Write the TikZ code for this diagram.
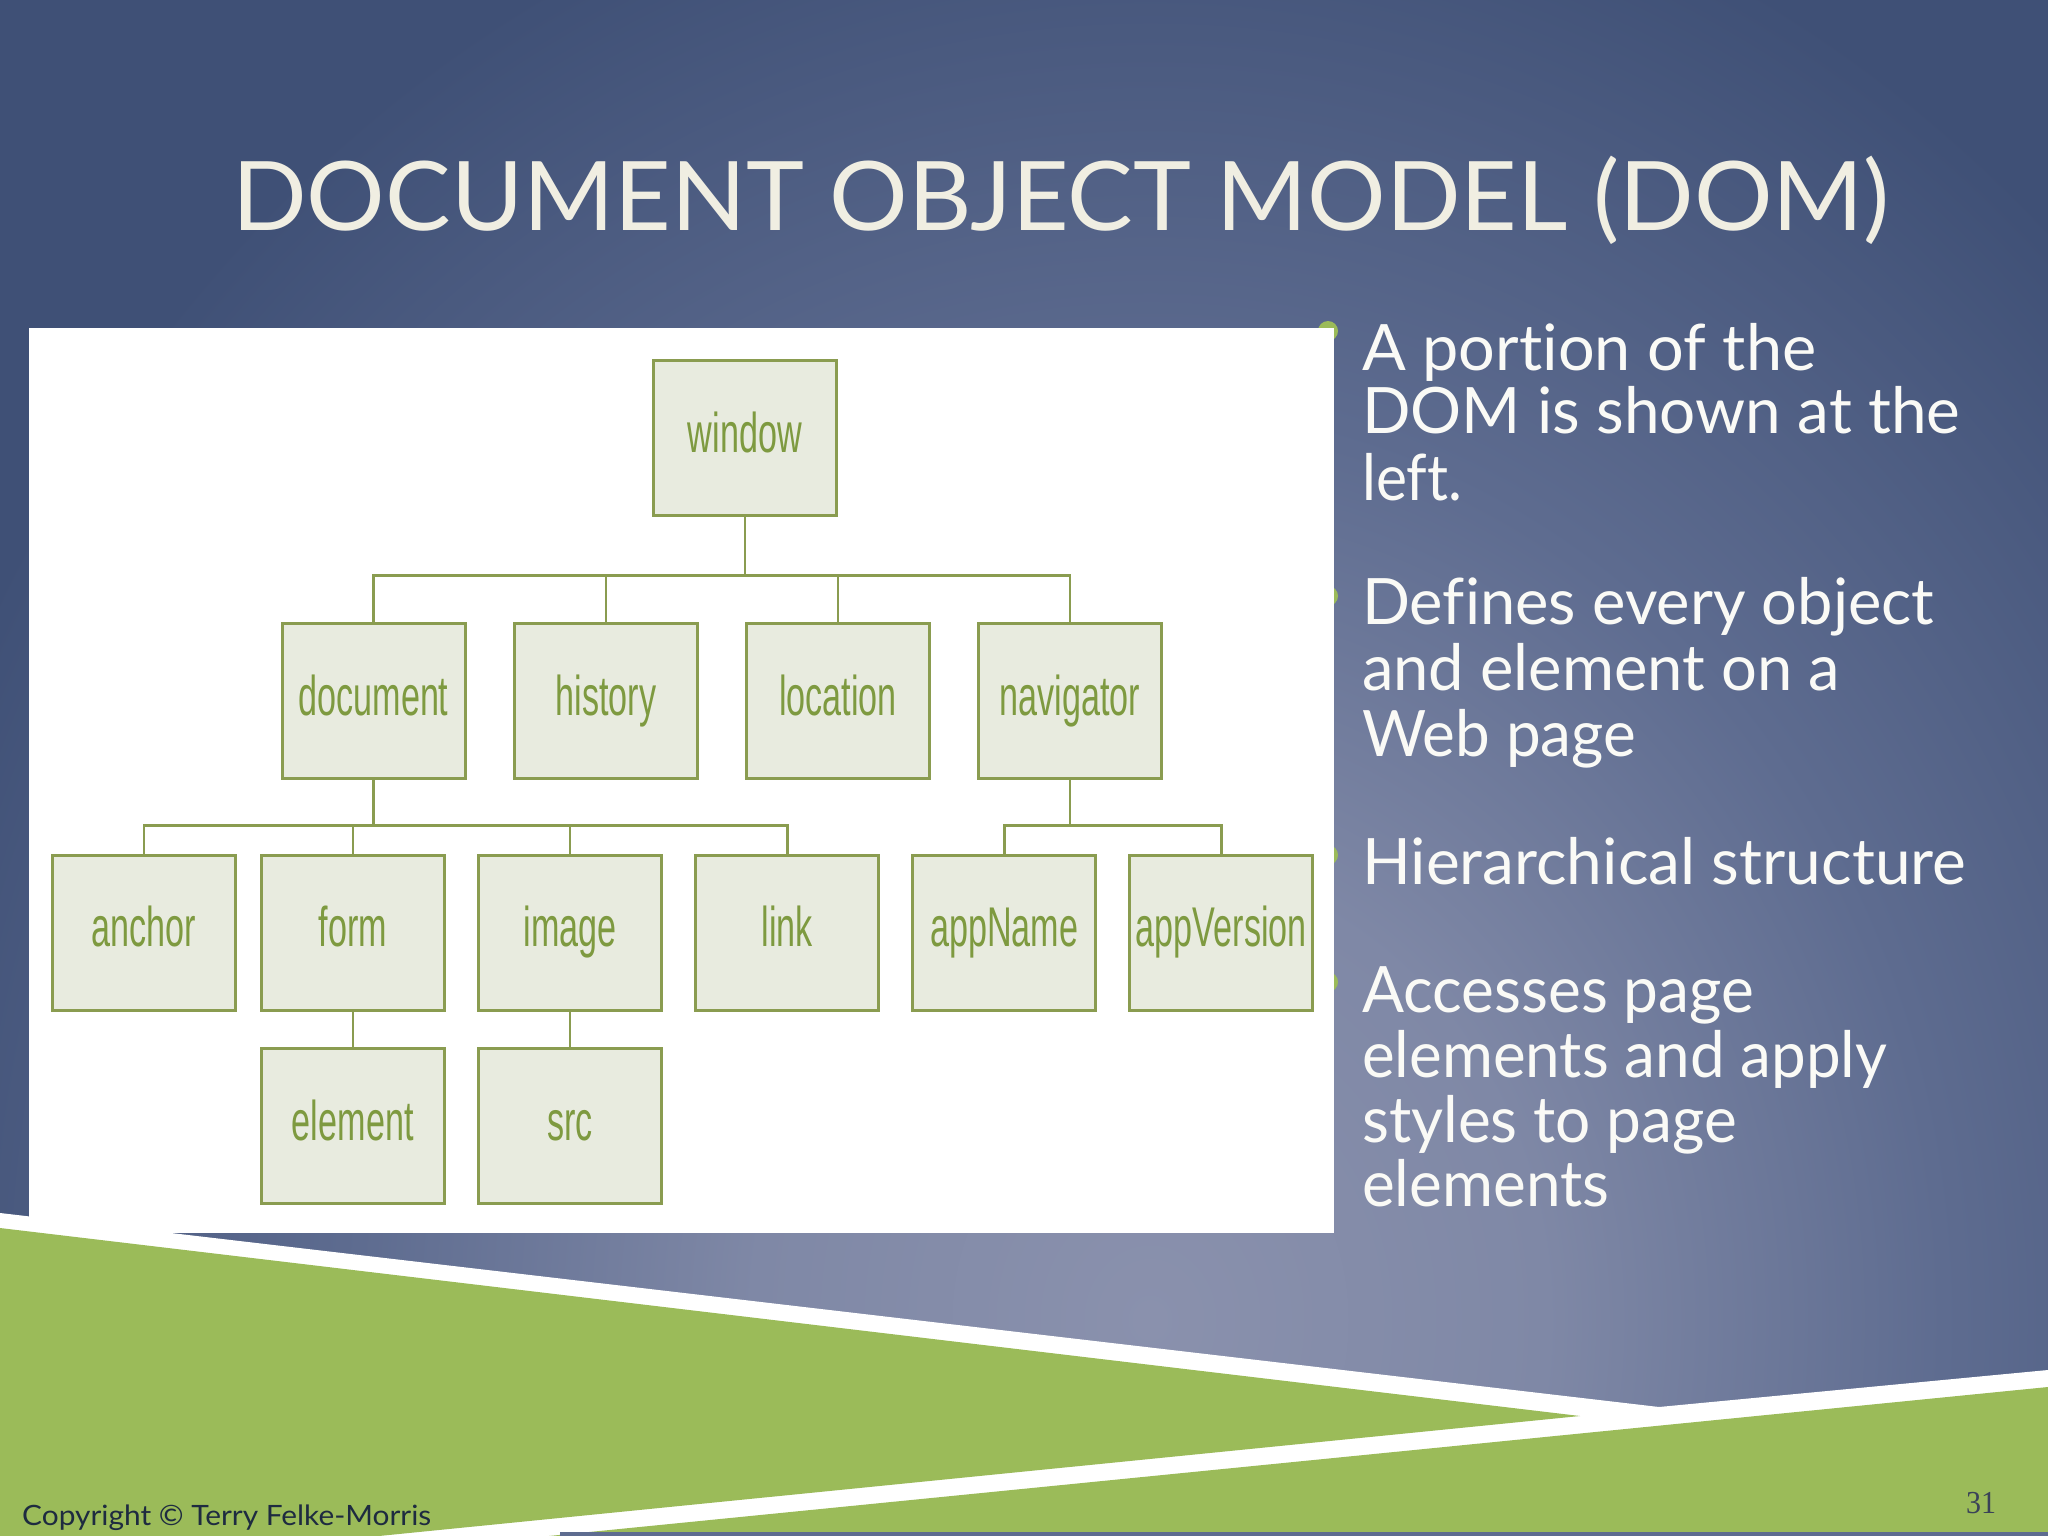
\documentclass[tikz,border=0pt]{standalone}
\usepackage{fontspec}
\usepackage{graphicx}
\setmainfont{Lato}[Ligatures=NoCommon]
\newfontfamily\narrowfont{Liberation Sans}
\newfontfamily\serifnum{Liberation Serif}
\definecolor{bgout}{HTML}{3F5076}
\definecolor{bgmid}{HTML}{5E6C90}
\definecolor{bglight}{HTML}{7F88A6}
\definecolor{bgin}{HTML}{8A91AD}
\definecolor{sgreen}{HTML}{9BBB59}
\definecolor{boxfill}{HTML}{E8EBDF}
\definecolor{boxline}{HTML}{8A9C50}
\definecolor{boxtext}{HTML}{7E9A40}
\definecolor{titlecol}{HTML}{F0EEE2}
\definecolor{copycol}{HTML}{1E2B40}
\definecolor{numcol}{HTML}{3A4258}
\definecolor{bodycol}{HTML}{FAFAF6}
\pgfdeclareradialshading{bgshade}{\pgfpoint{0bp}{0bp}}{color(0bp)=(bgin); color(7.5bp)=(bglight); color(15bp)=(bgmid); color(25bp)=(bgout); color(50bp)=(bgout)}
\newcommand\domlabel[1]{\scalebox{0.61}[1]{#1}}
\tikzset{
  domnode/.style={draw=boxline, fill=boxfill, line width=3pt, minimum width=183pt, minimum height=155pt,
    inner sep=0pt, text=boxtext, font=\narrowfont\fontsize{56}{60}\selectfont, text height=40pt, text depth=12pt},
  conn/.style={draw=boxline, line width=2.5pt},
  bodyline/.style={anchor=base west, inner sep=0pt, text=bodycol, font=\fontsize{64}{64}\selectfont},
  dot/.style={fill=sgreen}
}
\begin{document}
\begin{tikzpicture}[x=1pt,y=-1pt]
\useasboundingbox (0,0) rectangle (2048,1536);
\begin{scope}
  \clip (0,0) rectangle (2048,1536);
  \fill[bgout] (0,0) rectangle (2048,1536);
  \shade[shading=bgshade] (1150,1320) ellipse [x radius=1320pt, y radius=1500pt];
\end{scope}
% bullet dots (mostly hidden behind the panel)
\fill[dot] (1328,331) circle (10);
\fill[dot] (1328,596) circle (10);
\fill[dot] (1328,855) circle (10);
\fill[dot] (1328,982) circle (10);
% white panel
\fill[white] (29,328) rectangle (1334,1233);
% bottom decoration
\fill[white] (0,1213) -- (1659,1407) -- (2048,1370) -- (2048,1536) -- (0,1536) -- cycle;
\fill[sgreen] (0,1228) -- (1580,1416) -- (379,1536) -- (0,1536) -- cycle;
\fill[sgreen] (549,1536) -- (2048,1387) -- (2048,1536) -- cycle;
\fill[bgmid] (560,1532) rectangle (2048,1536);
% title
\node[anchor=base west, inner sep=0pt, text=titlecol] (title) at (232,230)
  {\resizebox{1657pt}{\height}{\fontsize{96}{100}\selectfont DOCUMENT OBJECT MODEL (DOM)}};
% tree
\node[domnode] (window) at (744.75,438.4) {\domlabel{window}};
\node[domnode] (document) at (373.5,701.1) {\domlabel{document}};
\node[domnode] (history) at (606,701.1) {\domlabel{history}};
\node[domnode] (location) at (838,701.1) {\domlabel{location}};
\node[domnode] (navigator) at (1070,701.1) {\domlabel{navigator}};
\node[domnode] (anchor) at (144,932.9) {\domlabel{anchor}};
\node[domnode] (form) at (352.75,932.9) {\domlabel{form}};
\node[domnode] (image) at (570,932.9) {\domlabel{image}};
\node[domnode] (link) at (787.3,932.9) {\domlabel{link}};
\node[domnode] (appName) at (1004.3,932.9) {\domlabel{appName}};
\node[domnode] (appVersion) at (1221.3,932.9) {\domlabel{appVersion}};
\node[domnode] (element) at (352.75,1126.4) {\domlabel{element}};
\node[domnode] (src) at (570,1126.4) {\domlabel{src}};
\coordinate (b1) at (744.75,575.6);
\coordinate (b2) at (373.5,825.4);
\coordinate (b3) at (1070,825.4);
\foreach \c in {document,history,location,navigator}
  \draw[conn] (window.south) -- (b1) -| (\c.north);
\foreach \c in {anchor,form,image,link}
  \draw[conn] (document.south) -- (b2) -| (\c.north);
\foreach \c in {appName,appVersion}
  \draw[conn] (navigator.south) -- (b3) -| (\c.north);
\draw[conn] (form.south) -- (element.north);
\draw[conn] (image.south) -- (src.north);
% bullet text
\node[bodyline] (l1) at (1362,370.4) {\resizebox{454pt}{\height}{A portion of the}};
\node[bodyline] (l2) at (1362,433.5) {\resizebox{598pt}{\height}{DOM is shown at the}};
\node[bodyline] (l3) at (1362,500) {\resizebox{100pt}{\height}{left.}};
\node[bodyline] (l4) at (1362,624.5) {\resizebox{572pt}{\height}{Defines every object}};
\node[bodyline] (l5) at (1362,690.7) {\resizebox{478pt}{\height}{and element on a}};
\node[bodyline] (l6) at (1362,756) {\resizebox{274pt}{\height}{Web page}};
\node[bodyline] (l7) at (1362,884.8) {\resizebox{604pt}{\height}{Hierarchical structure}};
\node[bodyline] (l8) at (1362,1012) {\resizebox{392pt}{\height}{Accesses page}};
\node[bodyline] (l9) at (1362,1077.7) {\resizebox{525pt}{\height}{elements and apply}};
\node[bodyline] (l10) at (1362,1142) {\resizebox{375pt}{\height}{styles to page}};
\node[bodyline] (l11) at (1362,1206) {\resizebox{247pt}{\height}{elements}};
% footer
\node[anchor=base west, inner sep=0pt, text=copycol] (copy) at (22,1525)
  {\resizebox{409pt}{\height}{\fontsize{28}{30}\selectfont Copyright © Terry Felke-Morris}};
\node[anchor=base west, inner sep=0pt, text=numcol] (pg) at (1966,1513)
  {\resizebox{30pt}{\height}{\serifnum\fontsize{32}{34}\selectfont 31}};
\end{tikzpicture}
\end{document}
